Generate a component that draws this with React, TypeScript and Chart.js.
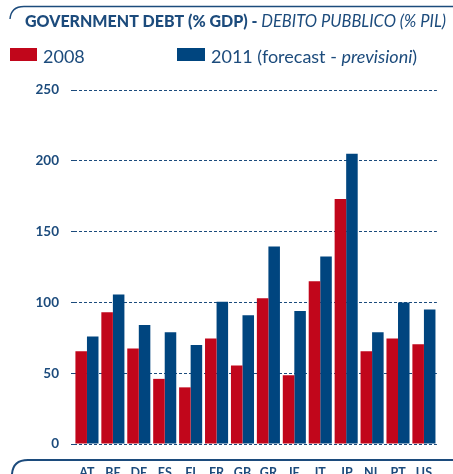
import React, { useEffect, useRef } from 'react';
import { Chart, registerables, Plugin } from 'chart.js';

Chart.register(...registerables);

const countries = ['AT', 'BE', 'DE', 'ES', 'FI', 'FR', 'GB', 'GR', 'IE', 'IT', 'JP', 'NL', 'PT', 'US'];
const debt2008 = [65.5, 93, 67.5, 46, 40, 74.5, 55.5, 103, 48.5, 115, 173, 65.5, 74.5, 70.5];
const debt2011 = [76, 105.5, 84, 79, 70, 100.5, 91, 139.5, 94, 132.5, 205, 79, 100, 95];
const yTicks = [0, 50, 100, 150, 200, 250];

const RED = '#c1061b';
const BLUE = '#00457f';
const INK = '#1c4b7c';
const FONT = 'Lato, "Open Sans", sans-serif';

// title, legend and the curved rules are drawn by hand
const decorPlugin: Plugin<'bar'> = {
    id: 'decor',
    afterDraw(chart) {
        const ctx = chart.ctx;
        const w = chart.width;
        ctx.save();

        ctx.strokeStyle = INK;
        ctx.lineWidth = 1.4;
        ctx.beginPath();
        ctx.moveTo(10, 19);
        ctx.quadraticCurveTo(11, 6.5, 24, 6.5);
        ctx.lineTo(w, 6.5);
        ctx.stroke();

        ctx.lineWidth = 2;
        ctx.beginPath();
        ctx.moveTo(12, 474);
        ctx.quadraticCurveTo(13, 460, 28, 460);
        ctx.lineTo(w, 460);
        ctx.stroke();

        ctx.fillStyle = INK;
        ctx.textBaseline = 'alphabetic';
        ctx.font = `900 16px ${FONT}`;
        const boldPart = 'GOVERNMENT DEBT (% GDP) - ';
        ctx.fillText(boldPart, 25, 27);
        const bw = ctx.measureText(boldPart).width;
        ctx.font = `italic 16.5px ${FONT}`;
        ctx.fillText('DEBITO PUBBLICO (% PIL)', 25 + bw, 27);

        ctx.fillStyle = RED;
        ctx.fillRect(10, 48, 27, 13);
        ctx.fillStyle = BLUE;
        ctx.fillRect(177, 48, 28, 13);

        ctx.fillStyle = INK;
        ctx.font = `18px ${FONT}`;
        ctx.fillText('2008', 43, 63);
        const p1 = '2011 (forecast - ';
        ctx.fillText(p1, 211, 63);
        let x = 211 + ctx.measureText(p1).width;
        ctx.font = `italic 18px ${FONT}`;
        ctx.fillText('previsioni', x, 63);
        x += ctx.measureText('previsioni').width;
        ctx.font = `18px ${FONT}`;
        ctx.fillText(')', x, 63);

        ctx.restore();
    },
};

const App: React.FC = () => {
    const canvasRef = useRef<HTMLCanvasElement>(null);
    const chartRef = useRef<Chart | null>(null);

    useEffect(() => {
        document.body.style.margin = '0';
        if (!canvasRef.current) return;
        const ctx = canvasRef.current.getContext('2d');
        if (!ctx) return;

        chartRef.current = new Chart(ctx, {
            type: 'bar',
            data: {
                labels: countries,
                datasets: [
                    { label: '2008', data: debt2008, backgroundColor: RED, barPercentage: 1, categoryPercentage: 0.89 },
                    { label: '2011', data: debt2011, backgroundColor: BLUE, barPercentage: 1, categoryPercentage: 0.89 },
                ],
            },
            options: {
                responsive: true,
                maintainAspectRatio: false,
                animation: false,
                layout: { padding: { top: 90, left: 0, right: 0, bottom: 0 } },
                plugins: {
                    legend: { display: false },
                    title: { display: false },
                    tooltip: { enabled: false },
                },
                scales: {
                    x: {
                        grid: { display: false, drawTicks: false, tickLength: 0 },
                        border: { display: false },
                        ticks: {
                            color: INK,
                            font: { family: FONT, size: 12.5, weight: 'bold' },
                            padding: 21,
                            autoSkip: false,
                            maxRotation: 0,
                        },
                        afterFit: (scale) => { scale.height = 30; },
                    },
                    y: {
                        min: 0,
                        max: 250,
                        afterBuildTicks: (scale) => { scale.ticks = yTicks.map((v) => ({ value: v })); },
                        grid: {
                            color: INK,
                            lineWidth: 1,
                            drawTicks: true,
                            tickLength: 3,
                            tickColor: INK,
                            tickBorderDash: [3, 2],
                        },
                        border: { display: false, dash: [3, 2] },
                        ticks: {
                            color: INK,
                            font: { family: FONT, size: 13.5, weight: 'bold' },
                            padding: 12,
                        },
                        afterFit: (scale) => { scale.width = 74; },
                    },
                },
            },
            plugins: [decorPlugin],
        });

        return () => {
            if (chartRef.current) {
                chartRef.current.destroy();
                chartRef.current = null;
            }
        };
    }, []);

    return (
        <div style={{ position: 'relative', width: 453, height: 474 }}>
            <canvas ref={canvasRef}></canvas>
        </div>
    );
};

export default App;
